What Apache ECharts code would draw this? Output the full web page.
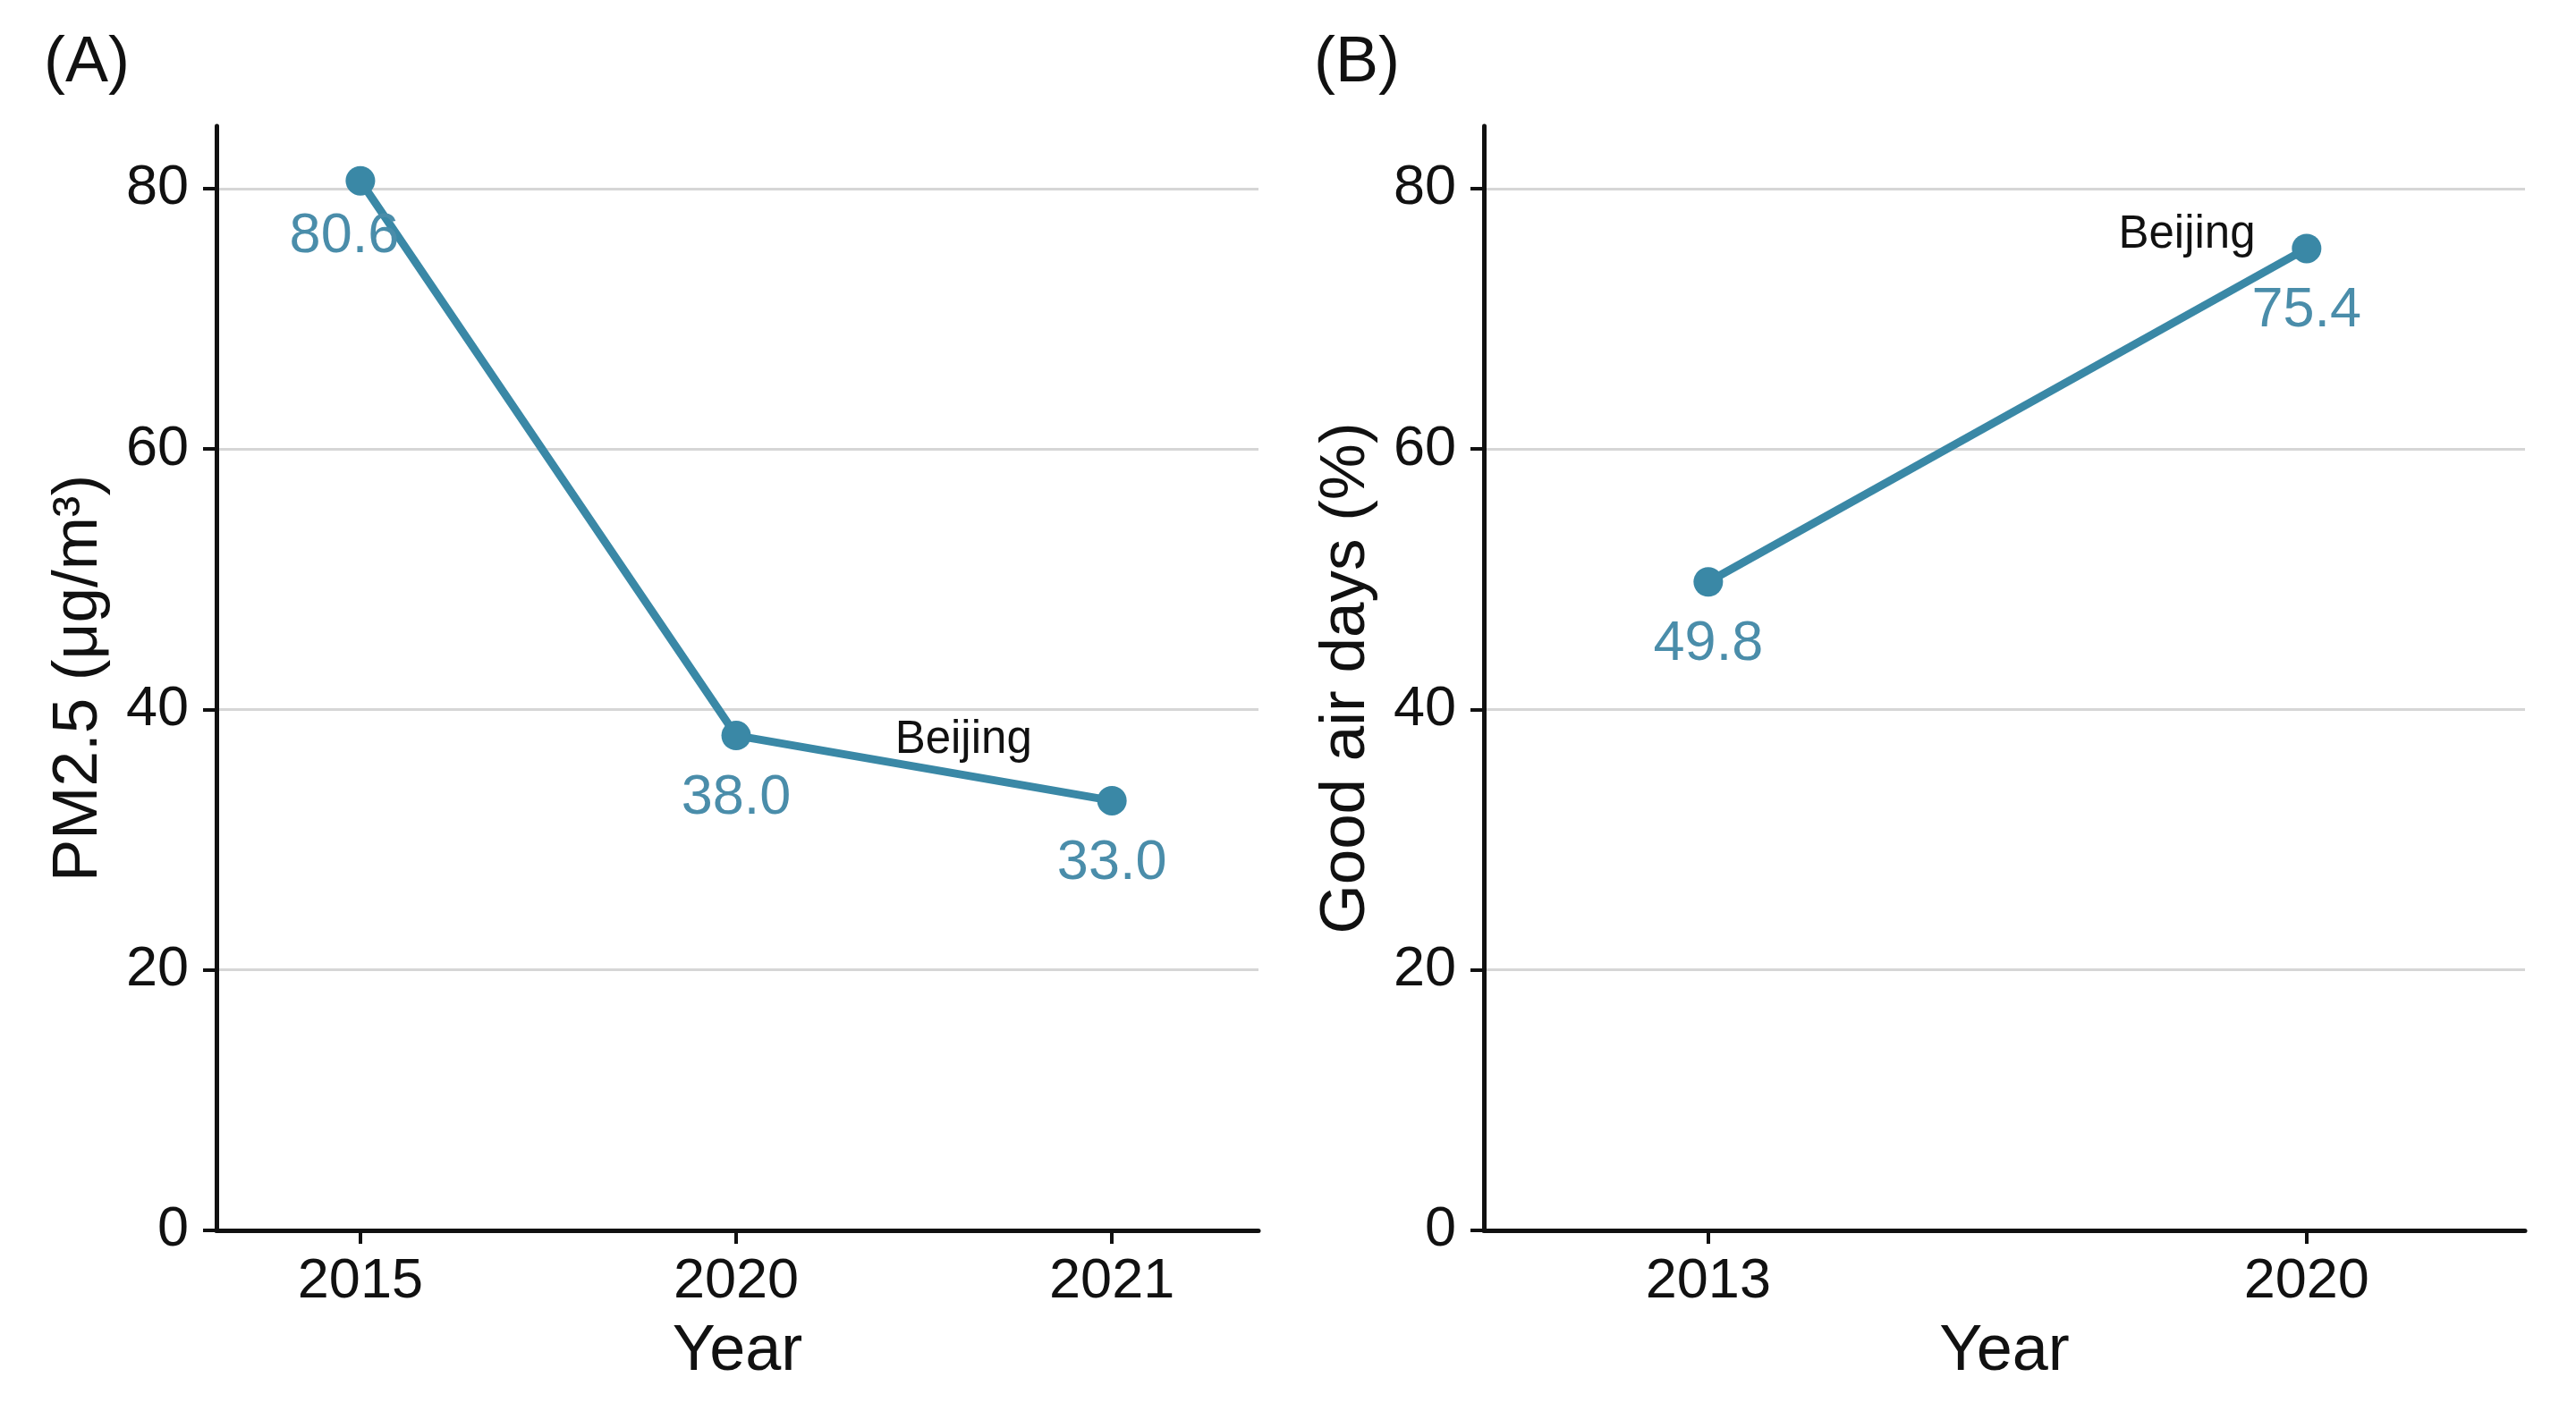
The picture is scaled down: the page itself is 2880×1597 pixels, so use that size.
<!DOCTYPE html>
<html>
<head>
<meta charset="utf-8">
<script src="https://cdn.jsdelivr.net/npm/echarts@6/dist/echarts.min.js"></script>
<style>
html,body{margin:0;padding:0;background:#ffffff;}
#c{width:2880px;height:1597px;}
</style>
</head>
<body>
<div id="c"></div>
<script>
// ---- data ----
const cityName = 'Beijing';
const yearsA = ['2015', '2020', '2021'];
const pm25 = [80.6, 38.0, 33.0];
const yearsB = ['2013', '2020'];
const goodDays = [49.8, 75.4];
const yTicks = [0, 20, 40, 60, 80];
// annotation anchor for the city name, in data space: [category index, value]
const cityLabelA = [1.605, 37.6];
const cityLabelB = [0.80, 76.4];

const FONT = '"Liberation Sans", Arial, Helvetica, sans-serif';
const TEAL = '#3a88a6';
const TEAL_TXT = '#4a8daa';
const INK = '#111111';

const chart = echarts.init(document.getElementById('c'), null, {renderer: 'canvas'});

function xAxisDef(gridIndex, cats, min, max) {
  const idx = cats.map((_, i) => i);
  return {
    type: 'value', gridIndex: gridIndex, min: min, max: max,
    name: 'Year', nameLocation: 'middle', nameGap: 100,
    nameTextStyle: {fontFamily: FONT, fontSize: 72, color: INK},
    axisLine: {show: true, onZero: false, lineStyle: {color: INK, width: 5}},
    axisTick: {show: true, length: 15, customValues: idx, lineStyle: {color: INK, width: 4}},
    axisLabel: {customValues: idx, margin: 26, fontFamily: FONT, fontSize: 63, color: INK,
      formatter: v => cats[Math.round(v)] || ''},
    splitLine: {show: false}
  };
}
function yAxisDef(gridIndex, name) {
  return {
    type: 'value', gridIndex: gridIndex, min: 0, max: 84.8,
    name: name, nameLocation: 'middle', nameGap: 118, nameRotate: 90,
    nameTextStyle: {fontFamily: FONT, fontSize: 71, color: INK},
    axisLine: {show: true, onZero: false, lineStyle: {color: INK, width: 5}},
    axisTick: {show: true, length: 15, customValues: yTicks, lineStyle: {color: INK, width: 4}},
    axisLabel: {customValues: yTicks, margin: 31, fontFamily: FONT, fontSize: 63, color: INK},
    splitLine: {show: true, showMinLine: false, lineStyle: {color: '#d6d6d6', width: 3}}
  };
}
function seriesDef(idx, values, cityPos, labelOffsets) {
  return {
    type: 'line', name: cityName, xAxisIndex: idx, yAxisIndex: idx,
    data: values.map((v, i) => {
      const item = {value: [i, v]};
      if (labelOffsets && labelOffsets[i]) item.label = {offset: labelOffsets[i]};
      return item;
    }),
    symbol: 'circle', symbolSize: 33,
    lineStyle: {color: TEAL, width: 9},
    itemStyle: {color: TEAL},
    label: {show: true, position: 'bottom', distance: 22, fontFamily: FONT, fontSize: 63,
      color: TEAL_TXT, formatter: p => p.value[1].toFixed(1)},
    markPoint: {
      symbol: 'rect', symbolSize: 1, itemStyle: {color: 'rgba(0,0,0,0)'},
      label: {show: true, position: 'inside', formatter: cityName, fontFamily: FONT, fontSize: 51, color: INK},
      data: [{coord: cityPos}]
    },
    animation: false
  };
}

chart.setOption({
  backgroundColor: '#ffffff',
  animation: false,
  title: [
    {text: '(A)', left: 44, top: 30, textStyle: {fontFamily: FONT, fontSize: 72, fontWeight: 'normal', color: INK}},
    {text: '(B)', left: 1464, top: 30, textStyle: {fontFamily: FONT, fontSize: 72, fontWeight: 'normal', color: INK}}
  ],
  grid: [
    {left: 242, right: 1473, top: 141, bottom: 221, containLabel: false},
    {left: 1659, right: 57, top: 141, bottom: 221, containLabel: false}
  ],
  xAxis: [
    xAxisDef(0, yearsA, -0.383, 2.39),
    xAxisDef(1, yearsB, -0.375, 1.365)
  ],
  yAxis: [
    yAxisDef(0, 'PM2.5 (μg/m³)'),
    yAxisDef(1, 'Good air days (%)')
  ],
  series: [
    seriesDef(0, pm25, cityLabelA, [[-18, -8], null, null]),
    seriesDef(1, goodDays, cityLabelB, null)
  ]
});
</script>
</body>
</html>
